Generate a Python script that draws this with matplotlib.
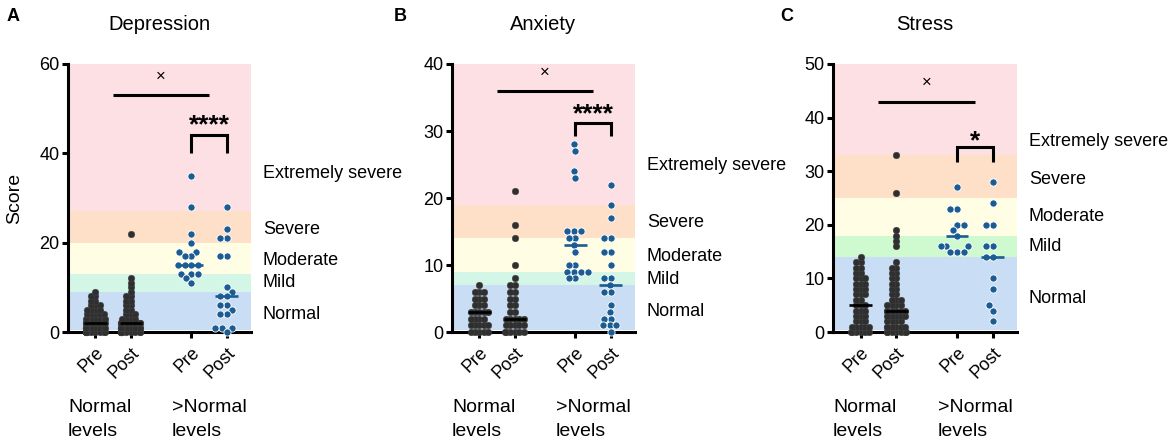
import numpy as np
import matplotlib
matplotlib.use('Agg')
import matplotlib.pyplot as plt

plt.rcParams['font.family'] = ['Liberation Sans', 'DejaVu Sans']

# ---------------- data ----------------
panel_letters = ['A', 'B', 'C']
titles = ['Depression', 'Anxiety', 'Stress']
tick_labels = ['Pre', 'Post', 'Pre', 'Post']
group_names = ['Normal\nlevels', '>Normal\nlevels']
band_names = ['Normal', 'Mild', 'Moderate', 'Severe', 'Extremely severe']

# Depression
dep_np_vals = [0, 1, 2, 3, 4, 5, 6, 7, 8, 9]
dep_np_counts = [13, 12, 10, 7, 5, 4, 3, 2, 2, 1]
dep_npo_vals = [0, 1, 2, 3, 4, 5, 6, 7, 8, 9, 10, 11, 12, 22]
dep_npo_counts = [15, 13, 9, 4, 3, 2, 2, 2, 2, 1, 1, 1, 1, 1]
dep_hi_pre = [35, 28, 22, 20, 18, 18, 17, 17, 15, 15, 15, 15, 13, 13, 13, 12, 11]
dep_hi_post = [28, 23, 21, 21, 17, 17, 10, 9, 8, 8, 6, 6, 5, 4, 4, 1, 1, 1, 0]
dep_bands = [0, 9, 13, 20, 27, 60]
dep_label_y = [4, 11, 16, 23, 35.5]
dep_yticks = [0, 20, 40, 60]

# Anxiety
anx_np_vals = [0, 1, 2, 3, 4, 5, 6, 7]
anx_np_counts = [5, 5, 4, 5, 3, 3, 3, 1]
anx_npo_vals = [0, 1, 2, 3, 4, 5, 6, 7, 8, 10, 14, 16, 21]
anx_npo_counts = [6, 5, 5, 2, 2, 2, 2, 2, 1, 1, 1, 1, 1]
anx_hi_pre = [28, 27, 24, 23, 15, 15, 15, 14, 14, 13, 12, 10, 10, 9, 9, 9, 9, 8, 8]
anx_hi_post = [22, 19, 17, 14, 14, 12, 12, 10, 8, 8, 7, 6, 6, 4, 3, 2, 2, 1, 1, 1, 0]
anx_bands = [0, 7, 9, 14, 19, 40]
anx_label_y = [3.1, 7.8, 11.2, 16.3, 24.8]
anx_yticks = [0, 10, 20, 30, 40]

# Stress
str_np_vals = [0, 1, 2, 3, 4, 5, 6, 7, 8, 9, 10, 11, 12, 13, 14]
str_np_counts = [6, 5, 3, 3, 3, 3, 2, 3, 3, 3, 3, 2, 2, 2, 1]
str_npo_vals = [0, 1, 2, 3, 4, 5, 6, 7, 8, 9, 10, 11, 12, 13, 16, 17, 18, 19, 26, 33]
str_npo_counts = [7, 6, 4, 5, 6, 4, 3, 2, 2, 2, 2, 2, 2, 1, 1, 1, 1, 1, 1, 1]
str_hi_pre = [27, 23, 23, 20, 20, 19, 18, 16, 16, 16, 15, 15, 15]
str_hi_post = [28, 24, 20, 20, 16, 16, 14, 14, 10, 8, 5, 4, 2]
str_bands = [0, 14, 18, 25, 33, 50]
str_label_y = [6.2, 16, 21.6, 28.5, 35.6]
str_yticks = [0, 10, 20, 30, 40, 50]

# significance annotations: (long line y, 'x' y, bracket top, bracket bottom, star y, star text)
dep_sig = (53, 57.3, 44, 40, 47.9, '****')
anx_sig = (36, 38.7, 31.2, 29.3, 33.6, '****')
str_sig = (43, 46.6, 34.5, 31.7, 37.0, '*')

# ---------------- style ----------------
positions = [0, 1, 2.7, 3.7]
xlim = (-0.77, 4.38)
GRAY = '#2f2f2f'
BLUE = '#1b5c93'
band_colors_ab = ['#c9ddf5', '#d3f6e6', '#fffde3', '#fee0c8', '#fde0e3']
band_colors_c = ['#c9ddf5', '#cff9cf', '#fffde3', '#fee0c8', '#fde0e3']

W, H = 1170, 444
fig = plt.figure(figsize=(W / 100, H / 100), dpi=100)

ax_px = [(68, 251), (452, 635), (833, 1017)]
y_top_px, y_bot_px = 64, 332


def swarm_x(values, xc, ax, d, max_half):
    vals = np.asarray(values, dtype=float)
    pts = ax.transData.transform(np.column_stack([np.full(len(vals), xc), vals]))
    ys = pts[:, 1]
    order = np.argsort(ys, kind='stable')
    px, py = [], []
    offs = np.zeros(len(vals))
    for i in order:
        y = ys[i]
        cands = [0.0]
        for a, b in zip(px, py):
            dy = y - b
            if abs(dy) < d:
                dx = np.sqrt(d * d - dy * dy)
                cands.extend([a - dx, a + dx])
        cands = sorted(cands, key=lambda c: (round(abs(c), 6), c))
        chosen = None
        for c in cands:
            ok = True
            for a, b in zip(px, py):
                if (c - a) ** 2 + (y - b) ** 2 < d * d - 1e-6:
                    ok = False
                    break
            if ok:
                chosen = c
                break
        if chosen is None:
            chosen = max_half
        if abs(chosen) > max_half:
            chosen = np.sign(chosen) * max_half
        px.append(chosen)
        py.append(y)
        offs[i] = chosen
    inv = ax.transData.inverted()
    xd = inv.transform(np.column_stack([pts[:, 0] + offs, ys]))[:, 0]
    return xd, vals


panels = [
    (dep_np_vals, dep_np_counts, dep_npo_vals, dep_npo_counts, dep_hi_pre, dep_hi_post,
     dep_bands, dep_label_y, dep_yticks, dep_sig, band_colors_ab),
    (anx_np_vals, anx_np_counts, anx_npo_vals, anx_npo_counts, anx_hi_pre, anx_hi_post,
     anx_bands, anx_label_y, anx_yticks, anx_sig, band_colors_ab),
    (str_np_vals, str_np_counts, str_npo_vals, str_npo_counts, str_hi_pre, str_hi_post,
     str_bands, str_label_y, str_yticks, str_sig, band_colors_c),
]

LW = 2.2
for k, (npv, npc, npov, npoc, hpre, hpost, bands, laby, yticks, sig, bcols) in enumerate(panels):
    l, r = ax_px[k]
    ax = fig.add_axes([l / W, 1 - y_bot_px / H, (r - l) / W, (y_bot_px - y_top_px) / H])
    ymax = bands[-1]
    ax.set_xlim(*xlim)
    ax.set_ylim(0, ymax)
    for sp in ['top', 'right']:
        ax.spines[sp].set_visible(False)
    for sp in ['left', 'bottom']:
        ax.spines[sp].set_linewidth(LW)
    ax.tick_params(axis='both', direction='out', length=4, width=LW, labelsize=13, pad=2)
    ax.set_yticks(yticks)
    ax.set_xticks(positions)
    ax.set_xticklabels(tick_labels, rotation=45, ha='right', va='top', rotation_mode='anchor')
    ax.tick_params(axis='x', labelsize=13, pad=5)
    ax.tick_params(axis='y', labelsize=13)

    # severity bands
    base = ymax * 0.006
    for j in range(5):
        lo = bands[j] if j > 0 else base
        ax.axhspan(lo, bands[j + 1], color=bcols[j], lw=0, zorder=0)
        ax.text(1.065, laby[j], band_names[j], transform=ax.get_yaxis_transform(),
                ha='left', va='center', fontsize=13)

    groups = [
        (np.repeat(npv, npc), GRAY),
        (np.repeat(npov, npoc), GRAY),
        (np.asarray(hpre), BLUE),
        (np.asarray(hpost), BLUE),
    ]
    for gi, (vals, col) in enumerate(groups):
        if col == GRAY:
            xd, yv = swarm_x(vals, positions[gi], ax, 4.4, 9.5)
            ax.scatter(xd, yv, s=23, color=col, edgecolors='#444444', linewidths=0.3,
                       zorder=3, clip_on=False)
            mcol = 'black'
        else:
            xd, yv = swarm_x(vals, positions[gi], ax, 6.8, 16.0)
            ax.scatter(xd, yv, s=27, color=col, edgecolors='white', linewidths=0.6,
                       zorder=3, clip_on=False)
            mcol = BLUE
        med = np.median(vals)
        ax.plot([positions[gi] - 0.32, positions[gi] + 0.32], [med, med], color=mcol,
                lw=1.9, zorder=4, solid_capstyle='butt')

    # significance
    line_y, x_y, br_top, br_bot, st_y, st_txt = sig
    xa = (positions[0] + positions[1]) / 2
    xb = (positions[2] + positions[3]) / 2
    ax.plot([xa, xb], [line_y, line_y], color='black', lw=LW, solid_capstyle='butt', zorder=5)
    ax.text((xa + xb) / 2, x_y, '×', ha='center', va='center', fontsize=12, zorder=5)
    ax.plot([positions[2], positions[2], positions[3], positions[3]],
            [br_bot, br_top, br_top, br_bot], color='black', lw=LW,
            solid_joinstyle='miter', solid_capstyle='butt', zorder=5)
    ax.annotate(st_txt, (xb, st_y), xytext=(0, -10.5), textcoords='offset points',
                ha='center', va='baseline', fontsize=19, fontweight='bold', zorder=5)

    # group labels
    for gx, name in zip([0.0, 0.568], group_names):
        l1, l2 = name.split('\n')
        ax.text(gx, -0.28, l1, transform=ax.transAxes, ha='left', va='center', fontsize=14)
        ax.text(gx, -0.373, l2, transform=ax.transAxes, ha='left', va='center', fontsize=14)

    # title and panel letter
    fig.text((l + r) / 2 / W, 1 - 24 / H, titles[k], ha='center', va='center', fontsize=14.5)
    fig.text([13, 400, 787][k] / W, 1 - 16.5 / H, panel_letters[k], ha='center', va='center',
             fontsize=13, fontweight='bold')
    if k == 0:
        fig.text(15 / W, 1 - 198 / H, 'Score', rotation=90, ha='center', va='center',
                 fontsize=14)

fig.savefig('out.png', dpi=100)
